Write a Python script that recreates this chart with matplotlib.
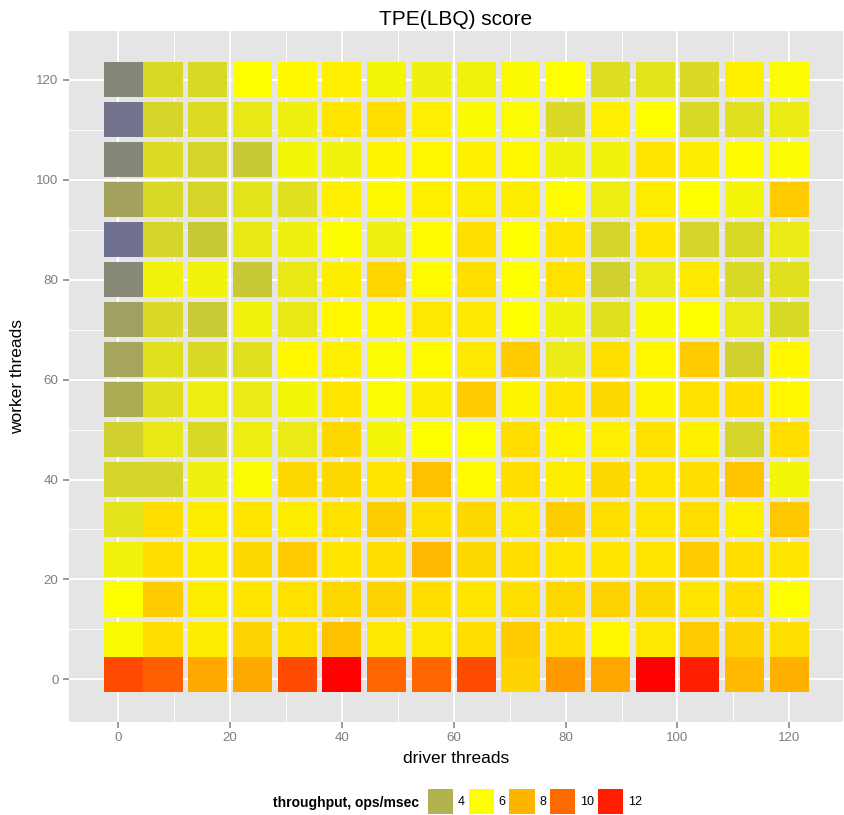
import numpy as np
import matplotlib
matplotlib.use("Agg")
import matplotlib.pyplot as plt
from matplotlib.colors import LinearSegmentedColormap, Normalize
from matplotlib.patches import Patch

plt.rcParams['font.family'] = ['Liberation Sans', 'DejaVu Sans']

# a. data (throughput, ops/msec), rows from worker=120 down to worker=1
driver_threads = [1, 8, 16, 24, 32, 40, 48, 56, 64, 72, 80, 88, 96, 104, 112, 120]
worker_threads = [120, 112, 104, 96, 88, 80, 72, 64, 56, 48, 40, 32, 24, 16, 8, 1]
throughput = [
    [2.9, 5.0, 5.0, 6.0, 6.2, 6.45, 5.75, 5.6, 5.65, 5.85, 6.0, 5.15, 5.3, 5.05, 6.4, 5.9],
    [2.4, 4.9, 5.1, 5.4, 5.6, 6.7, 6.85, 6.45, 5.85, 5.9, 5.05, 6.45, 6.0, 5.0, 5.2, 5.5],
    [2.9, 5.1, 4.9, 4.6, 5.75, 5.65, 6.3, 6.25, 6.4, 6.25, 5.65, 5.65, 6.7, 6.5, 6.1, 5.9],
    [3.6, 5.0, 4.9, 5.3, 5.2, 6.45, 6.15, 6.4, 6.5, 6.5, 6.1, 5.55, 6.5, 6.0, 5.75, 7.4],
    [2.3, 4.9, 4.6, 5.4, 5.6, 5.95, 5.6, 6.1, 6.85, 6.0, 6.7, 4.9, 6.7, 4.9, 5.0, 5.45],
    [2.95, 5.65, 5.65, 4.6, 5.4, 6.5, 7.1, 6.1, 6.85, 6.0, 6.8, 4.8, 5.45, 6.6, 5.0, 5.2],
    [3.55, 5.05, 4.65, 5.65, 5.4, 6.25, 6.25, 6.6, 6.6, 6.0, 5.65, 5.2, 5.85, 6.0, 5.45, 5.0],
    [3.7, 5.2, 5.0, 5.2, 6.25, 6.45, 5.9, 6.1, 6.6, 7.4, 5.45, 6.85, 6.25, 7.4, 4.8, 6.25],
    [3.85, 5.2, 5.55, 5.45, 5.75, 6.7, 5.9, 6.5, 7.4, 6.3, 6.7, 7.05, 6.3, 6.8, 6.9, 6.25],
    [4.8, 5.4, 5.0, 5.55, 5.45, 7.05, 5.75, 6.0, 6.0, 6.9, 6.3, 6.45, 6.8, 6.4, 4.9, 6.9],
    [4.9, 4.9, 5.6, 5.9, 7.05, 7.05, 6.7, 7.7, 6.1, 6.9, 6.5, 7.05, 6.7, 6.9, 7.6, 5.75],
    [5.3, 6.9, 6.5, 6.7, 6.5, 6.8, 7.3, 6.85, 7.05, 6.6, 7.3, 6.85, 6.7, 6.9, 6.4, 7.5],
    [5.65, 6.9, 6.5, 7.05, 7.4, 6.7, 6.9, 7.9, 7.05, 6.9, 6.7, 6.7, 6.7, 7.4, 6.9, 6.7],
    [6.0, 7.4, 6.5, 6.7, 6.8, 7.05, 7.2, 6.9, 6.7, 6.85, 7.05, 7.2, 7.05, 6.7, 6.9, 6.0],
    [5.85, 6.9, 6.5, 7.2, 6.85, 7.7, 6.6, 6.6, 6.9, 7.4, 6.9, 6.25, 6.6, 7.4, 7.2, 6.85],
    [10.8, 10.3, 8.3, 8.3, 10.8, 12.86, 10.1, 10.1, 10.8, 7.15, 8.7, 8.4, 12.86, 12.0, 7.9, 8.1],
]
legend_values = [4, 6, 8, 10, 12]

# b. colour scale: slate -> yellow -> red
vals = np.array(throughput)
vmin, vmax = vals.min(), vals.max()
mid = (6 - vmin) / (vmax - vmin)
cmap = LinearSegmentedColormap.from_list(
    "tp", [(0, "#707090"), (mid, "#FFFF00"), (1, "#FF0000")])
norm = Normalize(vmin, vmax)

# c. figure and panel
fig = plt.figure(figsize=(8.45, 8.15), dpi=100)
ax = fig.add_axes([69/845, 1-722/815, (843-69)/845, (722-31)/815])
ax.set_facecolor("#E5E5E5")

for y, row in zip(worker_threads, throughput):
    ax.bar(driver_threads, 7, width=7, bottom=y-3.5,
           color=cmap(norm(np.array(row))), linewidth=0, zorder=3)

# d. axes styling (ggplot look)
ax.set_xlim(-8.8, 129.6)
ax.set_ylim(-8.55, 129.8)
ax.set_xticks(range(0, 121, 20))
ax.set_yticks(range(0, 121, 20))
ax.set_xticks(range(10, 130, 20), minor=True)
ax.set_yticks(range(10, 130, 20), minor=True)
ax.grid(which="major", color="white", linewidth=1.4, zorder=1)
ax.grid(which="minor", color="white", linewidth=0.6, zorder=1)
ax.set_axisbelow(True)
for s in ax.spines.values():
    s.set_visible(False)
ax.tick_params(which="major", length=4.5, width=1.1, color="#7F7F7F",
               labelcolor="#7F7F7F", labelsize=9.6, pad=3)
ax.tick_params(which="minor", length=0)

ax.set_xlabel("driver threads", fontsize=12.5, labelpad=5)
ax.set_ylabel("worker threads", fontsize=12.5, labelpad=8)
ax.set_title("TPE(LBQ) score", fontsize=15, pad=4)

# e. legend at the bottom
handles = [Patch(facecolor=cmap(norm(v)), edgecolor="none") for v in legend_values]
fig.legend(handles, [str(v) for v in legend_values], ncol=5, frameon=False,
           loc="lower left", bbox_to_anchor=(428/845, 1/815), borderpad=0,
           borderaxespad=0, fontsize=9, handlelength=2.0, handleheight=2.7,
           handletextpad=0.4, columnspacing=0.3)
fig.text(273/845, 1-803/815, "throughput, ops/msec", fontsize=10,
         fontweight="bold", ha="left", va="center")

fig.savefig("out.png", dpi=100)
